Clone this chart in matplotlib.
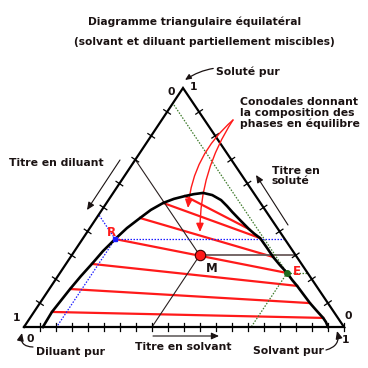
import numpy as np
import matplotlib.pyplot as plt

# binodal curve (solute / solvent fractions)
curve_solute = [0.0, 0.063, 0.159, 0.213, 0.264, 0.318, 0.368, 0.414, 0.456, 0.490,
                0.519, 0.536, 0.548, 0.556, 0.561, 0.552, 0.531, 0.506, 0.481, 0.444,
                0.410, 0.390, 0.372, 0.331, 0.293, 0.259, 0.226, 0.197, 0.172, 0.134,
                0.100, 0.067, 0.038, 0.021, 0.0]
curve_solvent = [0.059, 0.056, 0.065, 0.072, 0.081, 0.089, 0.102, 0.116, 0.136, 0.153,
                 0.177, 0.202, 0.231, 0.255, 0.281, 0.314, 0.352, 0.383, 0.412, 0.457,
                 0.499, 0.526, 0.553, 0.595, 0.633, 0.671, 0.710, 0.740, 0.768, 0.808,
                 0.844, 0.882, 0.916, 0.933, 0.950]

# conodales: raffinat end / extrait end
tie_raf_solute = [0.548, 0.519, 0.456, 0.368, 0.264, 0.159, 0.063]
tie_raf_solvent = [0.231, 0.177, 0.136, 0.102, 0.081, 0.065, 0.056]
tie_ext_solute = [0.410, 0.372, 0.293, 0.226, 0.172, 0.100, 0.038]
tie_ext_solvent = [0.499, 0.553, 0.633, 0.710, 0.768, 0.844, 0.916]

R = (0.368, 0.102)   # (solute, solvent)
E = (0.226, 0.710)
M = (0.30, 0.40)

# triangle corners in pixels (diluant, solvant, soluté)
D = np.array([24.0, 327.0])
S = np.array([344.0, 327.0])
A = np.array([183.0, 88.0])


def xy(a, s):
    a = np.atleast_1d(np.asarray(a, float))
    s = np.atleast_1d(np.asarray(s, float))
    p = D[:, None] + np.outer(S - D, s) + np.outer(A - D, a)
    return p[0], p[1]


fig = plt.figure(figsize=(3.68, 3.68), dpi=100)
ax = fig.add_axes([0, 0, 1, 1])
ax.set_xlim(0, 368)
ax.set_ylim(368, 0)
ax.axis('off')

FONT = dict(family='DejaVu Sans', weight='bold', color='#1a1212')
FS = 7.8

# outer triangle
tx, ty = xy([0, 0, 1, 0], [0, 1, 0, 0])
ax.plot(tx, ty, color='black', lw=1.6, solid_joinstyle='miter', zorder=3)

# ticks
def side_ticks(a_vals, s_vals, direction, half=4.0):
    n = np.array(direction, float)
    n = n / np.hypot(*n)
    px, py = xy(a_vals, s_vals)
    for x0, y0 in zip(px, py):
        ax.plot([x0 - half * n[0], x0 + half * n[0]], [y0 - half * n[1], y0 + half * n[1]],
                color='black', lw=0.9, zorder=3)

k10 = np.arange(1, 10) / 10
side_ticks(k10, np.zeros(9), (A - D)[::-1] * [1, -1])
side_ticks(k10, 1 - k10, (A - S)[::-1] * [1, -1])
side_ticks(np.zeros(20), np.arange(1, 21) / 20, (0, 1))

# conodales
for ar, sr, ae, se in zip(tie_raf_solute, tie_raf_solvent, tie_ext_solute, tie_ext_solvent):
    lx, ly = xy([ar, ae], [sr, se])
    ax.plot(lx, ly, color='#ff1a1a', lw=1.6, zorder=2)

# binodal curve
cx, cy = xy(curve_solute, curve_solvent)
ax.plot(cx, cy, color='black', lw=1.9, solid_joinstyle='round', zorder=4)

# reading lines through M
ma, ms = M
md = 1 - ma - ms
lx, ly = xy([ma, 1 - md], [ms, 0])
ax.plot(lx, ly, color='#2a2020', lw=0.8, zorder=2)
lx, ly = xy([ma, 0], [ms, ms])
ax.plot(lx, ly, color='#2a2020', lw=0.8, zorder=2)
lx, ly = xy([ma, ma], [ms, 1 - ma])
ax.plot(lx, ly, color='#6a5a5a', lw=1.3, zorder=2)

# reading lines through R (blue) and E (green)
for (pa, ps), col in [(R, '#1a1aff'), (E, '#3d7a2a')]:
    pd = 1 - pa - ps
    for la, ls in [([pa, pa], [ps, 1 - pa]), ([pa, 0], [ps, ps]), ([pa, 1 - pd], [ps, 0])]:
        lx, ly = xy(la, ls)
        ax.plot(lx, ly, color=col, lw=0.9, ls=(0, (1.2, 1.2)), zorder=2)

rx, ry = xy(*R)
ex, ey = xy(*E)
mx, my = xy(*M)
ax.plot(rx, ry, 's', color='#1a1aff', ms=3.5, zorder=6)
ax.plot(ex, ey, 'o', color='#1f6a1f', ms=4, zorder=6)
ax.plot(mx, my, 'o', color='#ff1a1a', mec='#3a0000', mew=0.8, ms=7.5, zorder=6)

ax.text(rx[0] - 4, ry[0] - 7, 'R', fontsize=8.5, ha='center', va='center',
        family='DejaVu Sans', weight='bold', color='#ff1a1a')
ax.text(ex[0] + 10, ey[0] - 1, 'E', fontsize=8.5, ha='center', va='center',
        family='DejaVu Sans', weight='bold', color='#ff1a1a')
ax.text(mx[0] + 12, my[0] + 13, 'M', fontsize=8.5, ha='center', va='center', **FONT)

# titles and labels
ax.text(195, 22, 'Diagramme triangulaire équilatéral', fontsize=7.7, ha='center', va='center', **FONT)
ax.text(204, 42, '(solvant et diluant partiellement miscibles)', fontsize=7.7,
        ha='center', va='center', **FONT)

ax.text(171, 92, '0', fontsize=FS, ha='center', va='center', **FONT)
ax.text(194, 87, '1', fontsize=FS, ha='center', va='center', **FONT)
ax.text(17, 318, '1', fontsize=FS, ha='center', va='center', **FONT)
ax.text(30, 339, '0', fontsize=FS, ha='center', va='center', **FONT)
ax.text(348, 316, '0', fontsize=FS, ha='center', va='center', **FONT)
ax.text(346, 340, '1', fontsize=FS, ha='center', va='center', **FONT)

arrow = dict(arrowstyle='-|>,head_length=0.45,head_width=0.2', color='#1a1212', lw=0.9,
             shrinkA=0, shrinkB=0)
ax.annotate('Soluté pur', xy=(185, 80), xytext=(216, 72), fontsize=FS, ha='left', va='center',
            arrowprops=dict(arrow, connectionstyle='arc3,rad=0.25'), **FONT)
ax.text(36, 352, 'Diluant pur', fontsize=FS, ha='left', va='center', **FONT)
ax.annotate('', xy=(22, 333), xytext=(33, 347),
            arrowprops=dict(arrow, connectionstyle='arc3,rad=-0.6'))
ax.text(324, 351, 'Solvant pur', fontsize=FS, ha='right', va='center', **FONT)
ax.annotate('', xy=(337, 331), xytext=(326, 350),
            arrowprops=dict(arrow, connectionstyle='arc3,rad=0.5'))

ax.text(183, 347, 'Titre en solvant', fontsize=FS, ha='center', va='center', **FONT)
ax.annotate('', xy=(219, 336), xytext=(153, 336), arrowprops=dict(arrow, lw=0.8))
ax.text(56, 163, 'Titre en diluant', fontsize=FS, ha='center', va='center', **FONT)
ax.annotate('', xy=(87, 210), xytext=(120, 160), arrowprops=dict(arrow, lw=0.8))
ax.text(272, 176, 'Titre en\nsoluté', fontsize=FS, ha='left', va='center', linespacing=1.1, **FONT)
ax.annotate('', xy=(256, 175), xytext=(288, 225), arrowprops=dict(arrow, lw=0.8))

ax.text(240, 113, 'Conodales donnant\nla composition des\nphases en équilibre', fontsize=FS,
        ha='left', va='center', linespacing=1.05, **FONT)
red_arrow = dict(arrowstyle='-|>,head_length=0.5,head_width=0.22', color='#ff1a1a', lw=1.0,
                 shrinkA=0, shrinkB=0)
ax.annotate('', xy=(188, 208), xytext=(233, 120), arrowprops=dict(red_arrow, connectionstyle='arc3,rad=0.2'))
ax.annotate('', xy=(200, 232), xytext=(233, 120), arrowprops=dict(red_arrow, connectionstyle='arc3,rad=0.15'))

fig.savefig('out.png', dpi=100)
